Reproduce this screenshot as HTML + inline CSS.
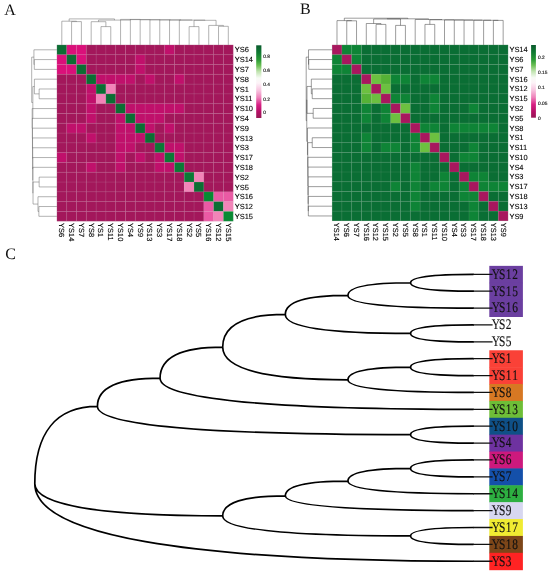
<!DOCTYPE html>
<html><head><meta charset="utf-8"><title>Figure</title>
<style>html,body{margin:0;padding:0;background:#fff}svg{display:block}</style></head>
<body><svg width="550" height="573" viewBox="0 0 550 573" text-rendering="geometricPrecision">
<rect width="550" height="573" fill="#fff"/>
<rect x="56.90" y="44.90" width="9.85" height="9.85" fill="#0b6e33"/>
<rect x="66.69" y="44.90" width="9.85" height="9.85" fill="#da107a"/>
<rect x="76.49" y="44.90" width="9.85" height="9.85" fill="#da107a"/>
<rect x="86.28" y="44.90" width="9.85" height="9.85" fill="#a3175b"/>
<rect x="96.08" y="44.90" width="9.85" height="9.85" fill="#a3175b"/>
<rect x="105.88" y="44.90" width="9.85" height="9.85" fill="#a3175b"/>
<rect x="115.67" y="44.90" width="9.85" height="9.85" fill="#a3175b"/>
<rect x="125.47" y="44.90" width="9.85" height="9.85" fill="#a3175b"/>
<rect x="135.26" y="44.90" width="9.85" height="9.85" fill="#a3175b"/>
<rect x="145.06" y="44.90" width="9.85" height="9.85" fill="#a3175b"/>
<rect x="154.85" y="44.90" width="9.85" height="9.85" fill="#a3175b"/>
<rect x="164.65" y="44.90" width="9.85" height="9.85" fill="#c0106b"/>
<rect x="174.44" y="44.90" width="9.85" height="9.85" fill="#a3175b"/>
<rect x="184.23" y="44.90" width="9.85" height="9.85" fill="#a3175b"/>
<rect x="194.03" y="44.90" width="9.85" height="9.85" fill="#a3175b"/>
<rect x="203.83" y="44.90" width="9.85" height="9.85" fill="#a3175b"/>
<rect x="213.62" y="44.90" width="9.85" height="9.85" fill="#a3175b"/>
<rect x="223.41" y="44.90" width="9.85" height="9.85" fill="#a3175b"/>
<rect x="56.90" y="54.70" width="9.85" height="9.85" fill="#da107a"/>
<rect x="66.69" y="54.70" width="9.85" height="9.85" fill="#0b6e33"/>
<rect x="76.49" y="54.70" width="9.85" height="9.85" fill="#da107a"/>
<rect x="86.28" y="54.70" width="9.85" height="9.85" fill="#a3175b"/>
<rect x="96.08" y="54.70" width="9.85" height="9.85" fill="#a3175b"/>
<rect x="105.88" y="54.70" width="9.85" height="9.85" fill="#a3175b"/>
<rect x="115.67" y="54.70" width="9.85" height="9.85" fill="#a3175b"/>
<rect x="125.47" y="54.70" width="9.85" height="9.85" fill="#a3175b"/>
<rect x="135.26" y="54.70" width="9.85" height="9.85" fill="#c0106b"/>
<rect x="145.06" y="54.70" width="9.85" height="9.85" fill="#a3175b"/>
<rect x="154.85" y="54.70" width="9.85" height="9.85" fill="#a3175b"/>
<rect x="164.65" y="54.70" width="9.85" height="9.85" fill="#a3175b"/>
<rect x="174.44" y="54.70" width="9.85" height="9.85" fill="#a3175b"/>
<rect x="184.23" y="54.70" width="9.85" height="9.85" fill="#a3175b"/>
<rect x="194.03" y="54.70" width="9.85" height="9.85" fill="#a3175b"/>
<rect x="203.83" y="54.70" width="9.85" height="9.85" fill="#a3175b"/>
<rect x="213.62" y="54.70" width="9.85" height="9.85" fill="#a3175b"/>
<rect x="223.41" y="54.70" width="9.85" height="9.85" fill="#a3175b"/>
<rect x="56.90" y="64.49" width="9.85" height="9.85" fill="#da107a"/>
<rect x="66.69" y="64.49" width="9.85" height="9.85" fill="#da107a"/>
<rect x="76.49" y="64.49" width="9.85" height="9.85" fill="#0b6e33"/>
<rect x="86.28" y="64.49" width="9.85" height="9.85" fill="#a3175b"/>
<rect x="96.08" y="64.49" width="9.85" height="9.85" fill="#a3175b"/>
<rect x="105.88" y="64.49" width="9.85" height="9.85" fill="#a3175b"/>
<rect x="115.67" y="64.49" width="9.85" height="9.85" fill="#a3175b"/>
<rect x="125.47" y="64.49" width="9.85" height="9.85" fill="#a3175b"/>
<rect x="135.26" y="64.49" width="9.85" height="9.85" fill="#c0106b"/>
<rect x="145.06" y="64.49" width="9.85" height="9.85" fill="#a3175b"/>
<rect x="154.85" y="64.49" width="9.85" height="9.85" fill="#a3175b"/>
<rect x="164.65" y="64.49" width="9.85" height="9.85" fill="#a3175b"/>
<rect x="174.44" y="64.49" width="9.85" height="9.85" fill="#a3175b"/>
<rect x="184.23" y="64.49" width="9.85" height="9.85" fill="#a3175b"/>
<rect x="194.03" y="64.49" width="9.85" height="9.85" fill="#a3175b"/>
<rect x="203.83" y="64.49" width="9.85" height="9.85" fill="#a3175b"/>
<rect x="213.62" y="64.49" width="9.85" height="9.85" fill="#a3175b"/>
<rect x="223.41" y="64.49" width="9.85" height="9.85" fill="#a3175b"/>
<rect x="56.90" y="74.28" width="9.85" height="9.85" fill="#a3175b"/>
<rect x="66.69" y="74.28" width="9.85" height="9.85" fill="#a3175b"/>
<rect x="76.49" y="74.28" width="9.85" height="9.85" fill="#a3175b"/>
<rect x="86.28" y="74.28" width="9.85" height="9.85" fill="#0b6e33"/>
<rect x="96.08" y="74.28" width="9.85" height="9.85" fill="#c0106b"/>
<rect x="105.88" y="74.28" width="9.85" height="9.85" fill="#c0106b"/>
<rect x="115.67" y="74.28" width="9.85" height="9.85" fill="#c0106b"/>
<rect x="125.47" y="74.28" width="9.85" height="9.85" fill="#c0106b"/>
<rect x="135.26" y="74.28" width="9.85" height="9.85" fill="#a3175b"/>
<rect x="145.06" y="74.28" width="9.85" height="9.85" fill="#c0106b"/>
<rect x="154.85" y="74.28" width="9.85" height="9.85" fill="#a3175b"/>
<rect x="164.65" y="74.28" width="9.85" height="9.85" fill="#a3175b"/>
<rect x="174.44" y="74.28" width="9.85" height="9.85" fill="#c0106b"/>
<rect x="184.23" y="74.28" width="9.85" height="9.85" fill="#a3175b"/>
<rect x="194.03" y="74.28" width="9.85" height="9.85" fill="#a3175b"/>
<rect x="203.83" y="74.28" width="9.85" height="9.85" fill="#a3175b"/>
<rect x="213.62" y="74.28" width="9.85" height="9.85" fill="#a3175b"/>
<rect x="223.41" y="74.28" width="9.85" height="9.85" fill="#a3175b"/>
<rect x="56.90" y="84.08" width="9.85" height="9.85" fill="#a3175b"/>
<rect x="66.69" y="84.08" width="9.85" height="9.85" fill="#a3175b"/>
<rect x="76.49" y="84.08" width="9.85" height="9.85" fill="#a3175b"/>
<rect x="86.28" y="84.08" width="9.85" height="9.85" fill="#c0106b"/>
<rect x="96.08" y="84.08" width="9.85" height="9.85" fill="#0b6e33"/>
<rect x="105.88" y="84.08" width="9.85" height="9.85" fill="#f284b8"/>
<rect x="115.67" y="84.08" width="9.85" height="9.85" fill="#a3175b"/>
<rect x="125.47" y="84.08" width="9.85" height="9.85" fill="#a3175b"/>
<rect x="135.26" y="84.08" width="9.85" height="9.85" fill="#a3175b"/>
<rect x="145.06" y="84.08" width="9.85" height="9.85" fill="#a3175b"/>
<rect x="154.85" y="84.08" width="9.85" height="9.85" fill="#a3175b"/>
<rect x="164.65" y="84.08" width="9.85" height="9.85" fill="#a3175b"/>
<rect x="174.44" y="84.08" width="9.85" height="9.85" fill="#a3175b"/>
<rect x="184.23" y="84.08" width="9.85" height="9.85" fill="#a3175b"/>
<rect x="194.03" y="84.08" width="9.85" height="9.85" fill="#a3175b"/>
<rect x="203.83" y="84.08" width="9.85" height="9.85" fill="#a3175b"/>
<rect x="213.62" y="84.08" width="9.85" height="9.85" fill="#a3175b"/>
<rect x="223.41" y="84.08" width="9.85" height="9.85" fill="#a3175b"/>
<rect x="56.90" y="93.88" width="9.85" height="9.85" fill="#a3175b"/>
<rect x="66.69" y="93.88" width="9.85" height="9.85" fill="#a3175b"/>
<rect x="76.49" y="93.88" width="9.85" height="9.85" fill="#a3175b"/>
<rect x="86.28" y="93.88" width="9.85" height="9.85" fill="#c0106b"/>
<rect x="96.08" y="93.88" width="9.85" height="9.85" fill="#f284b8"/>
<rect x="105.88" y="93.88" width="9.85" height="9.85" fill="#0b6e33"/>
<rect x="115.67" y="93.88" width="9.85" height="9.85" fill="#a3175b"/>
<rect x="125.47" y="93.88" width="9.85" height="9.85" fill="#a3175b"/>
<rect x="135.26" y="93.88" width="9.85" height="9.85" fill="#a3175b"/>
<rect x="145.06" y="93.88" width="9.85" height="9.85" fill="#a3175b"/>
<rect x="154.85" y="93.88" width="9.85" height="9.85" fill="#a3175b"/>
<rect x="164.65" y="93.88" width="9.85" height="9.85" fill="#a3175b"/>
<rect x="174.44" y="93.88" width="9.85" height="9.85" fill="#a3175b"/>
<rect x="184.23" y="93.88" width="9.85" height="9.85" fill="#a3175b"/>
<rect x="194.03" y="93.88" width="9.85" height="9.85" fill="#a3175b"/>
<rect x="203.83" y="93.88" width="9.85" height="9.85" fill="#a3175b"/>
<rect x="213.62" y="93.88" width="9.85" height="9.85" fill="#a3175b"/>
<rect x="223.41" y="93.88" width="9.85" height="9.85" fill="#a3175b"/>
<rect x="56.90" y="103.67" width="9.85" height="9.85" fill="#a3175b"/>
<rect x="66.69" y="103.67" width="9.85" height="9.85" fill="#a3175b"/>
<rect x="76.49" y="103.67" width="9.85" height="9.85" fill="#a3175b"/>
<rect x="86.28" y="103.67" width="9.85" height="9.85" fill="#c0106b"/>
<rect x="96.08" y="103.67" width="9.85" height="9.85" fill="#a3175b"/>
<rect x="105.88" y="103.67" width="9.85" height="9.85" fill="#a3175b"/>
<rect x="115.67" y="103.67" width="9.85" height="9.85" fill="#0b6e33"/>
<rect x="125.47" y="103.67" width="9.85" height="9.85" fill="#c0106b"/>
<rect x="135.26" y="103.67" width="9.85" height="9.85" fill="#c0106b"/>
<rect x="145.06" y="103.67" width="9.85" height="9.85" fill="#c0106b"/>
<rect x="154.85" y="103.67" width="9.85" height="9.85" fill="#c0106b"/>
<rect x="164.65" y="103.67" width="9.85" height="9.85" fill="#c0106b"/>
<rect x="174.44" y="103.67" width="9.85" height="9.85" fill="#c0106b"/>
<rect x="184.23" y="103.67" width="9.85" height="9.85" fill="#a3175b"/>
<rect x="194.03" y="103.67" width="9.85" height="9.85" fill="#a3175b"/>
<rect x="203.83" y="103.67" width="9.85" height="9.85" fill="#a3175b"/>
<rect x="213.62" y="103.67" width="9.85" height="9.85" fill="#a3175b"/>
<rect x="223.41" y="103.67" width="9.85" height="9.85" fill="#a3175b"/>
<rect x="56.90" y="113.47" width="9.85" height="9.85" fill="#a3175b"/>
<rect x="66.69" y="113.47" width="9.85" height="9.85" fill="#a3175b"/>
<rect x="76.49" y="113.47" width="9.85" height="9.85" fill="#a3175b"/>
<rect x="86.28" y="113.47" width="9.85" height="9.85" fill="#c0106b"/>
<rect x="96.08" y="113.47" width="9.85" height="9.85" fill="#a3175b"/>
<rect x="105.88" y="113.47" width="9.85" height="9.85" fill="#a3175b"/>
<rect x="115.67" y="113.47" width="9.85" height="9.85" fill="#c0106b"/>
<rect x="125.47" y="113.47" width="9.85" height="9.85" fill="#0b6e33"/>
<rect x="135.26" y="113.47" width="9.85" height="9.85" fill="#c0106b"/>
<rect x="145.06" y="113.47" width="9.85" height="9.85" fill="#c0106b"/>
<rect x="154.85" y="113.47" width="9.85" height="9.85" fill="#c0106b"/>
<rect x="164.65" y="113.47" width="9.85" height="9.85" fill="#a3175b"/>
<rect x="174.44" y="113.47" width="9.85" height="9.85" fill="#a3175b"/>
<rect x="184.23" y="113.47" width="9.85" height="9.85" fill="#a3175b"/>
<rect x="194.03" y="113.47" width="9.85" height="9.85" fill="#a3175b"/>
<rect x="203.83" y="113.47" width="9.85" height="9.85" fill="#a3175b"/>
<rect x="213.62" y="113.47" width="9.85" height="9.85" fill="#a3175b"/>
<rect x="223.41" y="113.47" width="9.85" height="9.85" fill="#a3175b"/>
<rect x="56.90" y="123.26" width="9.85" height="9.85" fill="#a3175b"/>
<rect x="66.69" y="123.26" width="9.85" height="9.85" fill="#c0106b"/>
<rect x="76.49" y="123.26" width="9.85" height="9.85" fill="#c0106b"/>
<rect x="86.28" y="123.26" width="9.85" height="9.85" fill="#a3175b"/>
<rect x="96.08" y="123.26" width="9.85" height="9.85" fill="#a3175b"/>
<rect x="105.88" y="123.26" width="9.85" height="9.85" fill="#a3175b"/>
<rect x="115.67" y="123.26" width="9.85" height="9.85" fill="#c0106b"/>
<rect x="125.47" y="123.26" width="9.85" height="9.85" fill="#c0106b"/>
<rect x="135.26" y="123.26" width="9.85" height="9.85" fill="#0b6e33"/>
<rect x="145.06" y="123.26" width="9.85" height="9.85" fill="#c0106b"/>
<rect x="154.85" y="123.26" width="9.85" height="9.85" fill="#a3175b"/>
<rect x="164.65" y="123.26" width="9.85" height="9.85" fill="#c0106b"/>
<rect x="174.44" y="123.26" width="9.85" height="9.85" fill="#a3175b"/>
<rect x="184.23" y="123.26" width="9.85" height="9.85" fill="#a3175b"/>
<rect x="194.03" y="123.26" width="9.85" height="9.85" fill="#a3175b"/>
<rect x="203.83" y="123.26" width="9.85" height="9.85" fill="#a3175b"/>
<rect x="213.62" y="123.26" width="9.85" height="9.85" fill="#a3175b"/>
<rect x="223.41" y="123.26" width="9.85" height="9.85" fill="#a3175b"/>
<rect x="56.90" y="133.06" width="9.85" height="9.85" fill="#a3175b"/>
<rect x="66.69" y="133.06" width="9.85" height="9.85" fill="#a3175b"/>
<rect x="76.49" y="133.06" width="9.85" height="9.85" fill="#a3175b"/>
<rect x="86.28" y="133.06" width="9.85" height="9.85" fill="#c0106b"/>
<rect x="96.08" y="133.06" width="9.85" height="9.85" fill="#a3175b"/>
<rect x="105.88" y="133.06" width="9.85" height="9.85" fill="#a3175b"/>
<rect x="115.67" y="133.06" width="9.85" height="9.85" fill="#c0106b"/>
<rect x="125.47" y="133.06" width="9.85" height="9.85" fill="#c0106b"/>
<rect x="135.26" y="133.06" width="9.85" height="9.85" fill="#c0106b"/>
<rect x="145.06" y="133.06" width="9.85" height="9.85" fill="#0b6e33"/>
<rect x="154.85" y="133.06" width="9.85" height="9.85" fill="#a3175b"/>
<rect x="164.65" y="133.06" width="9.85" height="9.85" fill="#a3175b"/>
<rect x="174.44" y="133.06" width="9.85" height="9.85" fill="#a3175b"/>
<rect x="184.23" y="133.06" width="9.85" height="9.85" fill="#a3175b"/>
<rect x="194.03" y="133.06" width="9.85" height="9.85" fill="#a3175b"/>
<rect x="203.83" y="133.06" width="9.85" height="9.85" fill="#a3175b"/>
<rect x="213.62" y="133.06" width="9.85" height="9.85" fill="#a3175b"/>
<rect x="223.41" y="133.06" width="9.85" height="9.85" fill="#a3175b"/>
<rect x="56.90" y="142.85" width="9.85" height="9.85" fill="#a3175b"/>
<rect x="66.69" y="142.85" width="9.85" height="9.85" fill="#a3175b"/>
<rect x="76.49" y="142.85" width="9.85" height="9.85" fill="#a3175b"/>
<rect x="86.28" y="142.85" width="9.85" height="9.85" fill="#a3175b"/>
<rect x="96.08" y="142.85" width="9.85" height="9.85" fill="#a3175b"/>
<rect x="105.88" y="142.85" width="9.85" height="9.85" fill="#a3175b"/>
<rect x="115.67" y="142.85" width="9.85" height="9.85" fill="#c0106b"/>
<rect x="125.47" y="142.85" width="9.85" height="9.85" fill="#c0106b"/>
<rect x="135.26" y="142.85" width="9.85" height="9.85" fill="#a3175b"/>
<rect x="145.06" y="142.85" width="9.85" height="9.85" fill="#a3175b"/>
<rect x="154.85" y="142.85" width="9.85" height="9.85" fill="#0b7a36"/>
<rect x="164.65" y="142.85" width="9.85" height="9.85" fill="#c0106b"/>
<rect x="174.44" y="142.85" width="9.85" height="9.85" fill="#c0106b"/>
<rect x="184.23" y="142.85" width="9.85" height="9.85" fill="#a3175b"/>
<rect x="194.03" y="142.85" width="9.85" height="9.85" fill="#a3175b"/>
<rect x="203.83" y="142.85" width="9.85" height="9.85" fill="#a3175b"/>
<rect x="213.62" y="142.85" width="9.85" height="9.85" fill="#a3175b"/>
<rect x="223.41" y="142.85" width="9.85" height="9.85" fill="#a3175b"/>
<rect x="56.90" y="152.65" width="9.85" height="9.85" fill="#c0106b"/>
<rect x="66.69" y="152.65" width="9.85" height="9.85" fill="#a3175b"/>
<rect x="76.49" y="152.65" width="9.85" height="9.85" fill="#a3175b"/>
<rect x="86.28" y="152.65" width="9.85" height="9.85" fill="#a3175b"/>
<rect x="96.08" y="152.65" width="9.85" height="9.85" fill="#a3175b"/>
<rect x="105.88" y="152.65" width="9.85" height="9.85" fill="#a3175b"/>
<rect x="115.67" y="152.65" width="9.85" height="9.85" fill="#c0106b"/>
<rect x="125.47" y="152.65" width="9.85" height="9.85" fill="#a3175b"/>
<rect x="135.26" y="152.65" width="9.85" height="9.85" fill="#c0106b"/>
<rect x="145.06" y="152.65" width="9.85" height="9.85" fill="#a3175b"/>
<rect x="154.85" y="152.65" width="9.85" height="9.85" fill="#c0106b"/>
<rect x="164.65" y="152.65" width="9.85" height="9.85" fill="#0b7a36"/>
<rect x="174.44" y="152.65" width="9.85" height="9.85" fill="#c0106b"/>
<rect x="184.23" y="152.65" width="9.85" height="9.85" fill="#a3175b"/>
<rect x="194.03" y="152.65" width="9.85" height="9.85" fill="#a3175b"/>
<rect x="203.83" y="152.65" width="9.85" height="9.85" fill="#a3175b"/>
<rect x="213.62" y="152.65" width="9.85" height="9.85" fill="#a3175b"/>
<rect x="223.41" y="152.65" width="9.85" height="9.85" fill="#a3175b"/>
<rect x="56.90" y="162.44" width="9.85" height="9.85" fill="#a3175b"/>
<rect x="66.69" y="162.44" width="9.85" height="9.85" fill="#a3175b"/>
<rect x="76.49" y="162.44" width="9.85" height="9.85" fill="#a3175b"/>
<rect x="86.28" y="162.44" width="9.85" height="9.85" fill="#c0106b"/>
<rect x="96.08" y="162.44" width="9.85" height="9.85" fill="#a3175b"/>
<rect x="105.88" y="162.44" width="9.85" height="9.85" fill="#a3175b"/>
<rect x="115.67" y="162.44" width="9.85" height="9.85" fill="#c0106b"/>
<rect x="125.47" y="162.44" width="9.85" height="9.85" fill="#a3175b"/>
<rect x="135.26" y="162.44" width="9.85" height="9.85" fill="#a3175b"/>
<rect x="145.06" y="162.44" width="9.85" height="9.85" fill="#a3175b"/>
<rect x="154.85" y="162.44" width="9.85" height="9.85" fill="#c0106b"/>
<rect x="164.65" y="162.44" width="9.85" height="9.85" fill="#c0106b"/>
<rect x="174.44" y="162.44" width="9.85" height="9.85" fill="#0b7a36"/>
<rect x="184.23" y="162.44" width="9.85" height="9.85" fill="#a3175b"/>
<rect x="194.03" y="162.44" width="9.85" height="9.85" fill="#a3175b"/>
<rect x="203.83" y="162.44" width="9.85" height="9.85" fill="#a3175b"/>
<rect x="213.62" y="162.44" width="9.85" height="9.85" fill="#a3175b"/>
<rect x="223.41" y="162.44" width="9.85" height="9.85" fill="#a3175b"/>
<rect x="56.90" y="172.23" width="9.85" height="9.85" fill="#a3175b"/>
<rect x="66.69" y="172.23" width="9.85" height="9.85" fill="#a3175b"/>
<rect x="76.49" y="172.23" width="9.85" height="9.85" fill="#a3175b"/>
<rect x="86.28" y="172.23" width="9.85" height="9.85" fill="#a3175b"/>
<rect x="96.08" y="172.23" width="9.85" height="9.85" fill="#a3175b"/>
<rect x="105.88" y="172.23" width="9.85" height="9.85" fill="#a3175b"/>
<rect x="115.67" y="172.23" width="9.85" height="9.85" fill="#a3175b"/>
<rect x="125.47" y="172.23" width="9.85" height="9.85" fill="#a3175b"/>
<rect x="135.26" y="172.23" width="9.85" height="9.85" fill="#a3175b"/>
<rect x="145.06" y="172.23" width="9.85" height="9.85" fill="#a3175b"/>
<rect x="154.85" y="172.23" width="9.85" height="9.85" fill="#a3175b"/>
<rect x="164.65" y="172.23" width="9.85" height="9.85" fill="#a3175b"/>
<rect x="174.44" y="172.23" width="9.85" height="9.85" fill="#a3175b"/>
<rect x="184.23" y="172.23" width="9.85" height="9.85" fill="#0b7a36"/>
<rect x="194.03" y="172.23" width="9.85" height="9.85" fill="#f284b8"/>
<rect x="203.83" y="172.23" width="9.85" height="9.85" fill="#a3175b"/>
<rect x="213.62" y="172.23" width="9.85" height="9.85" fill="#a3175b"/>
<rect x="223.41" y="172.23" width="9.85" height="9.85" fill="#a3175b"/>
<rect x="56.90" y="182.03" width="9.85" height="9.85" fill="#a3175b"/>
<rect x="66.69" y="182.03" width="9.85" height="9.85" fill="#a3175b"/>
<rect x="76.49" y="182.03" width="9.85" height="9.85" fill="#a3175b"/>
<rect x="86.28" y="182.03" width="9.85" height="9.85" fill="#a3175b"/>
<rect x="96.08" y="182.03" width="9.85" height="9.85" fill="#a3175b"/>
<rect x="105.88" y="182.03" width="9.85" height="9.85" fill="#a3175b"/>
<rect x="115.67" y="182.03" width="9.85" height="9.85" fill="#a3175b"/>
<rect x="125.47" y="182.03" width="9.85" height="9.85" fill="#a3175b"/>
<rect x="135.26" y="182.03" width="9.85" height="9.85" fill="#a3175b"/>
<rect x="145.06" y="182.03" width="9.85" height="9.85" fill="#a3175b"/>
<rect x="154.85" y="182.03" width="9.85" height="9.85" fill="#a3175b"/>
<rect x="164.65" y="182.03" width="9.85" height="9.85" fill="#a3175b"/>
<rect x="174.44" y="182.03" width="9.85" height="9.85" fill="#a3175b"/>
<rect x="184.23" y="182.03" width="9.85" height="9.85" fill="#f284b8"/>
<rect x="194.03" y="182.03" width="9.85" height="9.85" fill="#0b6e33"/>
<rect x="203.83" y="182.03" width="9.85" height="9.85" fill="#a3175b"/>
<rect x="213.62" y="182.03" width="9.85" height="9.85" fill="#a3175b"/>
<rect x="223.41" y="182.03" width="9.85" height="9.85" fill="#a3175b"/>
<rect x="56.90" y="191.83" width="9.85" height="9.85" fill="#a3175b"/>
<rect x="66.69" y="191.83" width="9.85" height="9.85" fill="#a3175b"/>
<rect x="76.49" y="191.83" width="9.85" height="9.85" fill="#a3175b"/>
<rect x="86.28" y="191.83" width="9.85" height="9.85" fill="#a3175b"/>
<rect x="96.08" y="191.83" width="9.85" height="9.85" fill="#a3175b"/>
<rect x="105.88" y="191.83" width="9.85" height="9.85" fill="#a3175b"/>
<rect x="115.67" y="191.83" width="9.85" height="9.85" fill="#a3175b"/>
<rect x="125.47" y="191.83" width="9.85" height="9.85" fill="#a3175b"/>
<rect x="135.26" y="191.83" width="9.85" height="9.85" fill="#a3175b"/>
<rect x="145.06" y="191.83" width="9.85" height="9.85" fill="#a3175b"/>
<rect x="154.85" y="191.83" width="9.85" height="9.85" fill="#a3175b"/>
<rect x="164.65" y="191.83" width="9.85" height="9.85" fill="#a3175b"/>
<rect x="174.44" y="191.83" width="9.85" height="9.85" fill="#a3175b"/>
<rect x="184.23" y="191.83" width="9.85" height="9.85" fill="#a3175b"/>
<rect x="194.03" y="191.83" width="9.85" height="9.85" fill="#a3175b"/>
<rect x="203.83" y="191.83" width="9.85" height="9.85" fill="#078a32"/>
<rect x="213.62" y="191.83" width="9.85" height="9.85" fill="#ea5aa4"/>
<rect x="223.41" y="191.83" width="9.85" height="9.85" fill="#ea5aa4"/>
<rect x="56.90" y="201.62" width="9.85" height="9.85" fill="#a3175b"/>
<rect x="66.69" y="201.62" width="9.85" height="9.85" fill="#a3175b"/>
<rect x="76.49" y="201.62" width="9.85" height="9.85" fill="#a3175b"/>
<rect x="86.28" y="201.62" width="9.85" height="9.85" fill="#a3175b"/>
<rect x="96.08" y="201.62" width="9.85" height="9.85" fill="#a3175b"/>
<rect x="105.88" y="201.62" width="9.85" height="9.85" fill="#a3175b"/>
<rect x="115.67" y="201.62" width="9.85" height="9.85" fill="#a3175b"/>
<rect x="125.47" y="201.62" width="9.85" height="9.85" fill="#a3175b"/>
<rect x="135.26" y="201.62" width="9.85" height="9.85" fill="#a3175b"/>
<rect x="145.06" y="201.62" width="9.85" height="9.85" fill="#a3175b"/>
<rect x="154.85" y="201.62" width="9.85" height="9.85" fill="#a3175b"/>
<rect x="164.65" y="201.62" width="9.85" height="9.85" fill="#a3175b"/>
<rect x="174.44" y="201.62" width="9.85" height="9.85" fill="#a3175b"/>
<rect x="184.23" y="201.62" width="9.85" height="9.85" fill="#a3175b"/>
<rect x="194.03" y="201.62" width="9.85" height="9.85" fill="#a3175b"/>
<rect x="203.83" y="201.62" width="9.85" height="9.85" fill="#ea5aa4"/>
<rect x="213.62" y="201.62" width="9.85" height="9.85" fill="#0b6e33"/>
<rect x="223.41" y="201.62" width="9.85" height="9.85" fill="#f284b8"/>
<rect x="56.90" y="211.41" width="9.85" height="9.85" fill="#a3175b"/>
<rect x="66.69" y="211.41" width="9.85" height="9.85" fill="#a3175b"/>
<rect x="76.49" y="211.41" width="9.85" height="9.85" fill="#a3175b"/>
<rect x="86.28" y="211.41" width="9.85" height="9.85" fill="#a3175b"/>
<rect x="96.08" y="211.41" width="9.85" height="9.85" fill="#a3175b"/>
<rect x="105.88" y="211.41" width="9.85" height="9.85" fill="#a3175b"/>
<rect x="115.67" y="211.41" width="9.85" height="9.85" fill="#a3175b"/>
<rect x="125.47" y="211.41" width="9.85" height="9.85" fill="#a3175b"/>
<rect x="135.26" y="211.41" width="9.85" height="9.85" fill="#a3175b"/>
<rect x="145.06" y="211.41" width="9.85" height="9.85" fill="#a3175b"/>
<rect x="154.85" y="211.41" width="9.85" height="9.85" fill="#a3175b"/>
<rect x="164.65" y="211.41" width="9.85" height="9.85" fill="#a3175b"/>
<rect x="174.44" y="211.41" width="9.85" height="9.85" fill="#a3175b"/>
<rect x="184.23" y="211.41" width="9.85" height="9.85" fill="#a3175b"/>
<rect x="194.03" y="211.41" width="9.85" height="9.85" fill="#a3175b"/>
<rect x="203.83" y="211.41" width="9.85" height="9.85" fill="#ea5aa4"/>
<rect x="213.62" y="211.41" width="9.85" height="9.85" fill="#f284b8"/>
<rect x="223.41" y="211.41" width="9.85" height="9.85" fill="#078a32"/>
<path d="M56.90 44.90V221.21M56.90 44.90H233.21M66.69 44.90V221.21M56.90 54.70H233.21M76.49 44.90V221.21M56.90 64.49H233.21M86.28 44.90V221.21M56.90 74.28H233.21M96.08 44.90V221.21M56.90 84.08H233.21M105.88 44.90V221.21M56.90 93.88H233.21M115.67 44.90V221.21M56.90 103.67H233.21M125.47 44.90V221.21M56.90 113.47H233.21M135.26 44.90V221.21M56.90 123.26H233.21M145.06 44.90V221.21M56.90 133.06H233.21M154.85 44.90V221.21M56.90 142.85H233.21M164.65 44.90V221.21M56.90 152.65H233.21M174.44 44.90V221.21M56.90 162.44H233.21M184.23 44.90V221.21M56.90 172.23H233.21M194.03 44.90V221.21M56.90 182.03H233.21M203.83 44.90V221.21M56.90 191.83H233.21M213.62 44.90V221.21M56.90 201.62H233.21M223.41 44.90V221.21M56.90 211.41H233.21M233.21 44.90V221.21M56.90 221.21H233.21" stroke="#bfa0b0" stroke-width="0.32" fill="none" opacity="0.5"/>
<path d="M71.59 44.90L71.59 21.60M81.39 44.90L81.39 21.60M71.59 21.60L81.39 21.60M61.80 44.90L61.80 21.20M76.49 21.60L76.49 21.20M61.80 21.20L76.49 21.20M100.98 44.90L100.98 26.60M110.77 44.90L110.77 26.60M100.98 26.60L110.77 26.60M91.18 44.90L91.18 21.70M105.88 26.60L105.88 21.70M91.18 21.70L105.88 21.70M189.13 44.90L189.13 26.60M198.93 44.90L198.93 26.60M189.13 26.60L198.93 26.60M218.52 44.90L218.52 26.30M228.31 44.90L228.31 26.30M218.52 26.30L228.31 26.30M208.72 44.90L208.72 25.40M223.42 26.30L223.42 25.40M208.72 25.40L223.42 25.40M194.03 26.60L194.03 20.30M216.07 25.40L216.07 20.30M194.03 20.30L216.07 20.30M179.34 44.90L179.34 20.10M205.05 20.30L205.05 20.10M179.34 20.10L205.05 20.10M169.54 44.90L169.54 20.00M192.19 20.10L192.19 20.00M169.54 20.00L192.19 20.00M159.75 44.90L159.75 19.90M180.87 20.00L180.87 19.90M159.75 19.90L180.87 19.90M149.95 44.90L149.95 19.80M170.31 19.90L170.31 19.80M149.95 19.80L170.31 19.80M140.16 44.90L140.16 19.70M160.13 19.80L160.13 19.70M140.16 19.70L160.13 19.70M130.36 44.90L130.36 19.60M150.14 19.70L150.14 19.60M130.36 19.60L150.14 19.60M120.57 44.90L120.57 19.40M140.25 19.60L140.25 19.40M120.57 19.40L140.25 19.40M98.53 21.70L98.53 20.10M130.41 19.40L130.41 20.10M98.53 20.10L130.41 20.10M69.14 21.20L69.14 18.90M114.47 20.10L114.47 18.90M69.14 18.90L114.47 18.90" fill="none" stroke="#666" stroke-width="0.5"/>
<path d="M56.90 59.59L34.30 59.59M56.90 69.39L34.30 69.39M34.30 59.59L34.30 69.39M56.90 49.80L33.91 49.80M34.30 64.49L33.91 64.49M33.91 49.80L33.91 64.49M56.90 88.98L39.15 88.98M56.90 98.77L39.15 98.77M39.15 88.98L39.15 98.77M56.90 79.18L34.40 79.18M39.15 93.88L34.40 93.88M34.40 79.18L34.40 93.88M56.90 177.13L39.15 177.13M56.90 186.93L39.15 186.93M39.15 177.13L39.15 186.93M56.90 206.52L38.86 206.52M56.90 216.31L38.86 216.31M38.86 206.52L38.86 216.31M56.90 196.72L37.98 196.72M38.86 211.42L37.98 211.42M37.98 196.72L37.98 211.42M39.15 182.03L33.04 182.03M37.98 204.07L33.04 204.07M33.04 182.03L33.04 204.07M56.90 167.34L32.84 167.34M33.04 193.05L32.84 193.05M32.84 167.34L32.84 193.05M56.90 157.54L32.75 157.54M32.84 180.19L32.75 180.19M32.75 157.54L32.75 180.19M56.90 147.75L32.65 147.75M32.75 168.87L32.65 168.87M32.65 147.75L32.65 168.87M56.90 137.95L32.55 137.95M32.65 158.31L32.55 158.31M32.55 137.95L32.55 158.31M56.90 128.16L32.46 128.16M32.55 148.13L32.46 148.13M32.46 128.16L32.46 148.13M56.90 118.36L32.36 118.36M32.46 138.14L32.36 138.14M32.36 118.36L32.36 138.14M56.90 108.57L32.16 108.57M32.36 128.25L32.16 128.25M32.16 108.57L32.16 128.25M34.40 86.53L32.84 86.53M32.16 118.41L32.84 118.41M32.84 86.53L32.84 118.41M33.91 57.14L31.68 57.14M32.84 102.47L31.68 102.47M31.68 57.14L31.68 102.47" fill="none" stroke="#666" stroke-width="0.5"/>
<text x="234.81" y="52.40" font-family='"Liberation Sans", Arial, sans-serif' font-size="7.45" fill="#000" stroke="#000" stroke-width="0.1">YS6</text>
<text transform="translate(59.20 223.11) rotate(90)" font-family='"Liberation Sans", Arial, sans-serif' font-size="7.45" fill="#000" stroke="#000" stroke-width="0.1">YS6</text>
<text x="234.81" y="62.19" font-family='"Liberation Sans", Arial, sans-serif' font-size="7.45" fill="#000" stroke="#000" stroke-width="0.1">YS14</text>
<text transform="translate(68.99 223.11) rotate(90)" font-family='"Liberation Sans", Arial, sans-serif' font-size="7.45" fill="#000" stroke="#000" stroke-width="0.1">YS14</text>
<text x="234.81" y="71.99" font-family='"Liberation Sans", Arial, sans-serif' font-size="7.45" fill="#000" stroke="#000" stroke-width="0.1">YS7</text>
<text transform="translate(78.79 223.11) rotate(90)" font-family='"Liberation Sans", Arial, sans-serif' font-size="7.45" fill="#000" stroke="#000" stroke-width="0.1">YS7</text>
<text x="234.81" y="81.78" font-family='"Liberation Sans", Arial, sans-serif' font-size="7.45" fill="#000" stroke="#000" stroke-width="0.1">YS8</text>
<text transform="translate(88.58 223.11) rotate(90)" font-family='"Liberation Sans", Arial, sans-serif' font-size="7.45" fill="#000" stroke="#000" stroke-width="0.1">YS8</text>
<text x="234.81" y="91.58" font-family='"Liberation Sans", Arial, sans-serif' font-size="7.45" fill="#000" stroke="#000" stroke-width="0.1">YS1</text>
<text transform="translate(98.38 223.11) rotate(90)" font-family='"Liberation Sans", Arial, sans-serif' font-size="7.45" fill="#000" stroke="#000" stroke-width="0.1">YS1</text>
<text x="234.81" y="101.37" font-family='"Liberation Sans", Arial, sans-serif' font-size="7.45" fill="#000" stroke="#000" stroke-width="0.1">YS11</text>
<text transform="translate(108.17 223.11) rotate(90)" font-family='"Liberation Sans", Arial, sans-serif' font-size="7.45" fill="#000" stroke="#000" stroke-width="0.1">YS11</text>
<text x="234.81" y="111.17" font-family='"Liberation Sans", Arial, sans-serif' font-size="7.45" fill="#000" stroke="#000" stroke-width="0.1">YS10</text>
<text transform="translate(117.97 223.11) rotate(90)" font-family='"Liberation Sans", Arial, sans-serif' font-size="7.45" fill="#000" stroke="#000" stroke-width="0.1">YS10</text>
<text x="234.81" y="120.96" font-family='"Liberation Sans", Arial, sans-serif' font-size="7.45" fill="#000" stroke="#000" stroke-width="0.1">YS4</text>
<text transform="translate(127.76 223.11) rotate(90)" font-family='"Liberation Sans", Arial, sans-serif' font-size="7.45" fill="#000" stroke="#000" stroke-width="0.1">YS4</text>
<text x="234.81" y="130.76" font-family='"Liberation Sans", Arial, sans-serif' font-size="7.45" fill="#000" stroke="#000" stroke-width="0.1">YS9</text>
<text transform="translate(137.56 223.11) rotate(90)" font-family='"Liberation Sans", Arial, sans-serif' font-size="7.45" fill="#000" stroke="#000" stroke-width="0.1">YS9</text>
<text x="234.81" y="140.55" font-family='"Liberation Sans", Arial, sans-serif' font-size="7.45" fill="#000" stroke="#000" stroke-width="0.1">YS13</text>
<text transform="translate(147.35 223.11) rotate(90)" font-family='"Liberation Sans", Arial, sans-serif' font-size="7.45" fill="#000" stroke="#000" stroke-width="0.1">YS13</text>
<text x="234.81" y="150.35" font-family='"Liberation Sans", Arial, sans-serif' font-size="7.45" fill="#000" stroke="#000" stroke-width="0.1">YS3</text>
<text transform="translate(157.15 223.11) rotate(90)" font-family='"Liberation Sans", Arial, sans-serif' font-size="7.45" fill="#000" stroke="#000" stroke-width="0.1">YS3</text>
<text x="234.81" y="160.14" font-family='"Liberation Sans", Arial, sans-serif' font-size="7.45" fill="#000" stroke="#000" stroke-width="0.1">YS17</text>
<text transform="translate(166.94 223.11) rotate(90)" font-family='"Liberation Sans", Arial, sans-serif' font-size="7.45" fill="#000" stroke="#000" stroke-width="0.1">YS17</text>
<text x="234.81" y="169.94" font-family='"Liberation Sans", Arial, sans-serif' font-size="7.45" fill="#000" stroke="#000" stroke-width="0.1">YS18</text>
<text transform="translate(176.74 223.11) rotate(90)" font-family='"Liberation Sans", Arial, sans-serif' font-size="7.45" fill="#000" stroke="#000" stroke-width="0.1">YS18</text>
<text x="234.81" y="179.73" font-family='"Liberation Sans", Arial, sans-serif' font-size="7.45" fill="#000" stroke="#000" stroke-width="0.1">YS2</text>
<text transform="translate(186.53 223.11) rotate(90)" font-family='"Liberation Sans", Arial, sans-serif' font-size="7.45" fill="#000" stroke="#000" stroke-width="0.1">YS2</text>
<text x="234.81" y="189.53" font-family='"Liberation Sans", Arial, sans-serif' font-size="7.45" fill="#000" stroke="#000" stroke-width="0.1">YS5</text>
<text transform="translate(196.33 223.11) rotate(90)" font-family='"Liberation Sans", Arial, sans-serif' font-size="7.45" fill="#000" stroke="#000" stroke-width="0.1">YS5</text>
<text x="234.81" y="199.32" font-family='"Liberation Sans", Arial, sans-serif' font-size="7.45" fill="#000" stroke="#000" stroke-width="0.1">YS16</text>
<text transform="translate(206.12 223.11) rotate(90)" font-family='"Liberation Sans", Arial, sans-serif' font-size="7.45" fill="#000" stroke="#000" stroke-width="0.1">YS16</text>
<text x="234.81" y="209.12" font-family='"Liberation Sans", Arial, sans-serif' font-size="7.45" fill="#000" stroke="#000" stroke-width="0.1">YS12</text>
<text transform="translate(215.92 223.11) rotate(90)" font-family='"Liberation Sans", Arial, sans-serif' font-size="7.45" fill="#000" stroke="#000" stroke-width="0.1">YS12</text>
<text x="234.81" y="218.91" font-family='"Liberation Sans", Arial, sans-serif' font-size="7.45" fill="#000" stroke="#000" stroke-width="0.1">YS15</text>
<text transform="translate(225.71 223.11) rotate(90)" font-family='"Liberation Sans", Arial, sans-serif' font-size="7.45" fill="#000" stroke="#000" stroke-width="0.1">YS15</text>
<rect x="332.10" y="44.90" width="9.83" height="9.83" fill="#a8175e"/>
<rect x="341.88" y="44.90" width="9.83" height="9.83" fill="#0e8436"/>
<rect x="351.65" y="44.90" width="9.83" height="9.83" fill="#0e8436"/>
<rect x="361.43" y="44.90" width="9.83" height="9.83" fill="#0a6e34"/>
<rect x="371.20" y="44.90" width="9.83" height="9.83" fill="#0a6e34"/>
<rect x="380.98" y="44.90" width="9.83" height="9.83" fill="#0a6e34"/>
<rect x="390.75" y="44.90" width="9.83" height="9.83" fill="#0a6e34"/>
<rect x="400.53" y="44.90" width="9.83" height="9.83" fill="#0a6e34"/>
<rect x="410.30" y="44.90" width="9.83" height="9.83" fill="#0a6e34"/>
<rect x="420.08" y="44.90" width="9.83" height="9.83" fill="#0a6e34"/>
<rect x="429.85" y="44.90" width="9.83" height="9.83" fill="#0a6e34"/>
<rect x="439.62" y="44.90" width="9.83" height="9.83" fill="#0a6e34"/>
<rect x="449.40" y="44.90" width="9.83" height="9.83" fill="#0a6e34"/>
<rect x="459.18" y="44.90" width="9.83" height="9.83" fill="#0a6e34"/>
<rect x="468.95" y="44.90" width="9.83" height="9.83" fill="#0a6e34"/>
<rect x="478.73" y="44.90" width="9.83" height="9.83" fill="#0a6e34"/>
<rect x="488.50" y="44.90" width="9.83" height="9.83" fill="#0a6e34"/>
<rect x="498.28" y="44.90" width="9.83" height="9.83" fill="#0a6e34"/>
<rect x="332.10" y="54.67" width="9.83" height="9.83" fill="#0e8436"/>
<rect x="341.88" y="54.67" width="9.83" height="9.83" fill="#a8175e"/>
<rect x="351.65" y="54.67" width="9.83" height="9.83" fill="#0e8436"/>
<rect x="361.43" y="54.67" width="9.83" height="9.83" fill="#0a6e34"/>
<rect x="371.20" y="54.67" width="9.83" height="9.83" fill="#0a6e34"/>
<rect x="380.98" y="54.67" width="9.83" height="9.83" fill="#0a6e34"/>
<rect x="390.75" y="54.67" width="9.83" height="9.83" fill="#0a6e34"/>
<rect x="400.53" y="54.67" width="9.83" height="9.83" fill="#0a6e34"/>
<rect x="410.30" y="54.67" width="9.83" height="9.83" fill="#0a6e34"/>
<rect x="420.08" y="54.67" width="9.83" height="9.83" fill="#0a6e34"/>
<rect x="429.85" y="54.67" width="9.83" height="9.83" fill="#0a6e34"/>
<rect x="439.62" y="54.67" width="9.83" height="9.83" fill="#0a6e34"/>
<rect x="449.40" y="54.67" width="9.83" height="9.83" fill="#0a6e34"/>
<rect x="459.18" y="54.67" width="9.83" height="9.83" fill="#0a6e34"/>
<rect x="468.95" y="54.67" width="9.83" height="9.83" fill="#0a6e34"/>
<rect x="478.73" y="54.67" width="9.83" height="9.83" fill="#0a6e34"/>
<rect x="488.50" y="54.67" width="9.83" height="9.83" fill="#0a6e34"/>
<rect x="498.28" y="54.67" width="9.83" height="9.83" fill="#0a6e34"/>
<rect x="332.10" y="64.45" width="9.83" height="9.83" fill="#0e8436"/>
<rect x="341.88" y="64.45" width="9.83" height="9.83" fill="#0e8436"/>
<rect x="351.65" y="64.45" width="9.83" height="9.83" fill="#a8175e"/>
<rect x="361.43" y="64.45" width="9.83" height="9.83" fill="#0a6e34"/>
<rect x="371.20" y="64.45" width="9.83" height="9.83" fill="#0a6e34"/>
<rect x="380.98" y="64.45" width="9.83" height="9.83" fill="#0a6e34"/>
<rect x="390.75" y="64.45" width="9.83" height="9.83" fill="#0a6e34"/>
<rect x="400.53" y="64.45" width="9.83" height="9.83" fill="#0a6e34"/>
<rect x="410.30" y="64.45" width="9.83" height="9.83" fill="#0a6e34"/>
<rect x="420.08" y="64.45" width="9.83" height="9.83" fill="#0a6e34"/>
<rect x="429.85" y="64.45" width="9.83" height="9.83" fill="#0a6e34"/>
<rect x="439.62" y="64.45" width="9.83" height="9.83" fill="#0a6e34"/>
<rect x="449.40" y="64.45" width="9.83" height="9.83" fill="#0a6e34"/>
<rect x="459.18" y="64.45" width="9.83" height="9.83" fill="#0a6e34"/>
<rect x="468.95" y="64.45" width="9.83" height="9.83" fill="#0a6e34"/>
<rect x="478.73" y="64.45" width="9.83" height="9.83" fill="#0a6e34"/>
<rect x="488.50" y="64.45" width="9.83" height="9.83" fill="#0a6e34"/>
<rect x="498.28" y="64.45" width="9.83" height="9.83" fill="#0a6e34"/>
<rect x="332.10" y="74.22" width="9.83" height="9.83" fill="#0a6e34"/>
<rect x="341.88" y="74.22" width="9.83" height="9.83" fill="#0a6e34"/>
<rect x="351.65" y="74.22" width="9.83" height="9.83" fill="#0a6e34"/>
<rect x="361.43" y="74.22" width="9.83" height="9.83" fill="#a8175e"/>
<rect x="371.20" y="74.22" width="9.83" height="9.83" fill="#6cc040"/>
<rect x="380.98" y="74.22" width="9.83" height="9.83" fill="#55b236"/>
<rect x="390.75" y="74.22" width="9.83" height="9.83" fill="#0e8436"/>
<rect x="400.53" y="74.22" width="9.83" height="9.83" fill="#0e8436"/>
<rect x="410.30" y="74.22" width="9.83" height="9.83" fill="#0a6e34"/>
<rect x="420.08" y="74.22" width="9.83" height="9.83" fill="#0e8436"/>
<rect x="429.85" y="74.22" width="9.83" height="9.83" fill="#0e8436"/>
<rect x="439.62" y="74.22" width="9.83" height="9.83" fill="#0a6e34"/>
<rect x="449.40" y="74.22" width="9.83" height="9.83" fill="#0a6e34"/>
<rect x="459.18" y="74.22" width="9.83" height="9.83" fill="#0a6e34"/>
<rect x="468.95" y="74.22" width="9.83" height="9.83" fill="#0a6e34"/>
<rect x="478.73" y="74.22" width="9.83" height="9.83" fill="#0a6e34"/>
<rect x="488.50" y="74.22" width="9.83" height="9.83" fill="#0a6e34"/>
<rect x="498.28" y="74.22" width="9.83" height="9.83" fill="#0a6e34"/>
<rect x="332.10" y="84.00" width="9.83" height="9.83" fill="#0a6e34"/>
<rect x="341.88" y="84.00" width="9.83" height="9.83" fill="#0a6e34"/>
<rect x="351.65" y="84.00" width="9.83" height="9.83" fill="#0a6e34"/>
<rect x="361.43" y="84.00" width="9.83" height="9.83" fill="#6cc040"/>
<rect x="371.20" y="84.00" width="9.83" height="9.83" fill="#a8175e"/>
<rect x="380.98" y="84.00" width="9.83" height="9.83" fill="#6cc040"/>
<rect x="390.75" y="84.00" width="9.83" height="9.83" fill="#0a6e34"/>
<rect x="400.53" y="84.00" width="9.83" height="9.83" fill="#0a6e34"/>
<rect x="410.30" y="84.00" width="9.83" height="9.83" fill="#0a6e34"/>
<rect x="420.08" y="84.00" width="9.83" height="9.83" fill="#0a6e34"/>
<rect x="429.85" y="84.00" width="9.83" height="9.83" fill="#0a6e34"/>
<rect x="439.62" y="84.00" width="9.83" height="9.83" fill="#0a6e34"/>
<rect x="449.40" y="84.00" width="9.83" height="9.83" fill="#0a6e34"/>
<rect x="459.18" y="84.00" width="9.83" height="9.83" fill="#0a6e34"/>
<rect x="468.95" y="84.00" width="9.83" height="9.83" fill="#0a6e34"/>
<rect x="478.73" y="84.00" width="9.83" height="9.83" fill="#0a6e34"/>
<rect x="488.50" y="84.00" width="9.83" height="9.83" fill="#0a6e34"/>
<rect x="498.28" y="84.00" width="9.83" height="9.83" fill="#0a6e34"/>
<rect x="332.10" y="93.78" width="9.83" height="9.83" fill="#0a6e34"/>
<rect x="341.88" y="93.78" width="9.83" height="9.83" fill="#0a6e34"/>
<rect x="351.65" y="93.78" width="9.83" height="9.83" fill="#0a6e34"/>
<rect x="361.43" y="93.78" width="9.83" height="9.83" fill="#55b236"/>
<rect x="371.20" y="93.78" width="9.83" height="9.83" fill="#6cc040"/>
<rect x="380.98" y="93.78" width="9.83" height="9.83" fill="#a8175e"/>
<rect x="390.75" y="93.78" width="9.83" height="9.83" fill="#0e8436"/>
<rect x="400.53" y="93.78" width="9.83" height="9.83" fill="#0e8436"/>
<rect x="410.30" y="93.78" width="9.83" height="9.83" fill="#0a6e34"/>
<rect x="420.08" y="93.78" width="9.83" height="9.83" fill="#0a6e34"/>
<rect x="429.85" y="93.78" width="9.83" height="9.83" fill="#0e8436"/>
<rect x="439.62" y="93.78" width="9.83" height="9.83" fill="#0a6e34"/>
<rect x="449.40" y="93.78" width="9.83" height="9.83" fill="#0a6e34"/>
<rect x="459.18" y="93.78" width="9.83" height="9.83" fill="#0a6e34"/>
<rect x="468.95" y="93.78" width="9.83" height="9.83" fill="#0a6e34"/>
<rect x="478.73" y="93.78" width="9.83" height="9.83" fill="#0a6e34"/>
<rect x="488.50" y="93.78" width="9.83" height="9.83" fill="#0a6e34"/>
<rect x="498.28" y="93.78" width="9.83" height="9.83" fill="#0a6e34"/>
<rect x="332.10" y="103.55" width="9.83" height="9.83" fill="#0a6e34"/>
<rect x="341.88" y="103.55" width="9.83" height="9.83" fill="#0a6e34"/>
<rect x="351.65" y="103.55" width="9.83" height="9.83" fill="#0a6e34"/>
<rect x="361.43" y="103.55" width="9.83" height="9.83" fill="#0e8436"/>
<rect x="371.20" y="103.55" width="9.83" height="9.83" fill="#0a6e34"/>
<rect x="380.98" y="103.55" width="9.83" height="9.83" fill="#0e8436"/>
<rect x="390.75" y="103.55" width="9.83" height="9.83" fill="#a8175e"/>
<rect x="400.53" y="103.55" width="9.83" height="9.83" fill="#6cc040"/>
<rect x="410.30" y="103.55" width="9.83" height="9.83" fill="#0a6e34"/>
<rect x="420.08" y="103.55" width="9.83" height="9.83" fill="#0a6e34"/>
<rect x="429.85" y="103.55" width="9.83" height="9.83" fill="#0e8436"/>
<rect x="439.62" y="103.55" width="9.83" height="9.83" fill="#0a6e34"/>
<rect x="449.40" y="103.55" width="9.83" height="9.83" fill="#0a6e34"/>
<rect x="459.18" y="103.55" width="9.83" height="9.83" fill="#0a6e34"/>
<rect x="468.95" y="103.55" width="9.83" height="9.83" fill="#0e8436"/>
<rect x="478.73" y="103.55" width="9.83" height="9.83" fill="#0a6e34"/>
<rect x="488.50" y="103.55" width="9.83" height="9.83" fill="#0a6e34"/>
<rect x="498.28" y="103.55" width="9.83" height="9.83" fill="#0a6e34"/>
<rect x="332.10" y="113.32" width="9.83" height="9.83" fill="#0a6e34"/>
<rect x="341.88" y="113.32" width="9.83" height="9.83" fill="#0a6e34"/>
<rect x="351.65" y="113.32" width="9.83" height="9.83" fill="#0a6e34"/>
<rect x="361.43" y="113.32" width="9.83" height="9.83" fill="#0e8436"/>
<rect x="371.20" y="113.32" width="9.83" height="9.83" fill="#0a6e34"/>
<rect x="380.98" y="113.32" width="9.83" height="9.83" fill="#0e8436"/>
<rect x="390.75" y="113.32" width="9.83" height="9.83" fill="#6cc040"/>
<rect x="400.53" y="113.32" width="9.83" height="9.83" fill="#a8175e"/>
<rect x="410.30" y="113.32" width="9.83" height="9.83" fill="#0a6e34"/>
<rect x="420.08" y="113.32" width="9.83" height="9.83" fill="#0a6e34"/>
<rect x="429.85" y="113.32" width="9.83" height="9.83" fill="#0a6e34"/>
<rect x="439.62" y="113.32" width="9.83" height="9.83" fill="#0a6e34"/>
<rect x="449.40" y="113.32" width="9.83" height="9.83" fill="#0a6e34"/>
<rect x="459.18" y="113.32" width="9.83" height="9.83" fill="#0a6e34"/>
<rect x="468.95" y="113.32" width="9.83" height="9.83" fill="#0a6e34"/>
<rect x="478.73" y="113.32" width="9.83" height="9.83" fill="#0a6e34"/>
<rect x="488.50" y="113.32" width="9.83" height="9.83" fill="#0a6e34"/>
<rect x="498.28" y="113.32" width="9.83" height="9.83" fill="#0a6e34"/>
<rect x="332.10" y="123.10" width="9.83" height="9.83" fill="#0a6e34"/>
<rect x="341.88" y="123.10" width="9.83" height="9.83" fill="#0a6e34"/>
<rect x="351.65" y="123.10" width="9.83" height="9.83" fill="#0a6e34"/>
<rect x="361.43" y="123.10" width="9.83" height="9.83" fill="#0a6e34"/>
<rect x="371.20" y="123.10" width="9.83" height="9.83" fill="#0a6e34"/>
<rect x="380.98" y="123.10" width="9.83" height="9.83" fill="#0a6e34"/>
<rect x="390.75" y="123.10" width="9.83" height="9.83" fill="#0a6e34"/>
<rect x="400.53" y="123.10" width="9.83" height="9.83" fill="#0a6e34"/>
<rect x="410.30" y="123.10" width="9.83" height="9.83" fill="#a8175e"/>
<rect x="420.08" y="123.10" width="9.83" height="9.83" fill="#0e8436"/>
<rect x="429.85" y="123.10" width="9.83" height="9.83" fill="#0e8436"/>
<rect x="439.62" y="123.10" width="9.83" height="9.83" fill="#0a6e34"/>
<rect x="449.40" y="123.10" width="9.83" height="9.83" fill="#0e8436"/>
<rect x="459.18" y="123.10" width="9.83" height="9.83" fill="#0e8436"/>
<rect x="468.95" y="123.10" width="9.83" height="9.83" fill="#0e8436"/>
<rect x="478.73" y="123.10" width="9.83" height="9.83" fill="#0e8436"/>
<rect x="488.50" y="123.10" width="9.83" height="9.83" fill="#0e8436"/>
<rect x="498.28" y="123.10" width="9.83" height="9.83" fill="#0a6e34"/>
<rect x="332.10" y="132.88" width="9.83" height="9.83" fill="#0a6e34"/>
<rect x="341.88" y="132.88" width="9.83" height="9.83" fill="#0a6e34"/>
<rect x="351.65" y="132.88" width="9.83" height="9.83" fill="#0a6e34"/>
<rect x="361.43" y="132.88" width="9.83" height="9.83" fill="#0e8436"/>
<rect x="371.20" y="132.88" width="9.83" height="9.83" fill="#0a6e34"/>
<rect x="380.98" y="132.88" width="9.83" height="9.83" fill="#0a6e34"/>
<rect x="390.75" y="132.88" width="9.83" height="9.83" fill="#0a6e34"/>
<rect x="400.53" y="132.88" width="9.83" height="9.83" fill="#0a6e34"/>
<rect x="410.30" y="132.88" width="9.83" height="9.83" fill="#0e8436"/>
<rect x="420.08" y="132.88" width="9.83" height="9.83" fill="#a8175e"/>
<rect x="429.85" y="132.88" width="9.83" height="9.83" fill="#6cc040"/>
<rect x="439.62" y="132.88" width="9.83" height="9.83" fill="#0a6e34"/>
<rect x="449.40" y="132.88" width="9.83" height="9.83" fill="#0a6e34"/>
<rect x="459.18" y="132.88" width="9.83" height="9.83" fill="#0a6e34"/>
<rect x="468.95" y="132.88" width="9.83" height="9.83" fill="#0a6e34"/>
<rect x="478.73" y="132.88" width="9.83" height="9.83" fill="#0a6e34"/>
<rect x="488.50" y="132.88" width="9.83" height="9.83" fill="#0a6e34"/>
<rect x="498.28" y="132.88" width="9.83" height="9.83" fill="#0a6e34"/>
<rect x="332.10" y="142.65" width="9.83" height="9.83" fill="#0a6e34"/>
<rect x="341.88" y="142.65" width="9.83" height="9.83" fill="#0a6e34"/>
<rect x="351.65" y="142.65" width="9.83" height="9.83" fill="#0a6e34"/>
<rect x="361.43" y="142.65" width="9.83" height="9.83" fill="#0e8436"/>
<rect x="371.20" y="142.65" width="9.83" height="9.83" fill="#0a6e34"/>
<rect x="380.98" y="142.65" width="9.83" height="9.83" fill="#0e8436"/>
<rect x="390.75" y="142.65" width="9.83" height="9.83" fill="#0e8436"/>
<rect x="400.53" y="142.65" width="9.83" height="9.83" fill="#0a6e34"/>
<rect x="410.30" y="142.65" width="9.83" height="9.83" fill="#0e8436"/>
<rect x="420.08" y="142.65" width="9.83" height="9.83" fill="#6cc040"/>
<rect x="429.85" y="142.65" width="9.83" height="9.83" fill="#a8175e"/>
<rect x="439.62" y="142.65" width="9.83" height="9.83" fill="#0a6e34"/>
<rect x="449.40" y="142.65" width="9.83" height="9.83" fill="#0a6e34"/>
<rect x="459.18" y="142.65" width="9.83" height="9.83" fill="#0a6e34"/>
<rect x="468.95" y="142.65" width="9.83" height="9.83" fill="#0e8436"/>
<rect x="478.73" y="142.65" width="9.83" height="9.83" fill="#0a6e34"/>
<rect x="488.50" y="142.65" width="9.83" height="9.83" fill="#0a6e34"/>
<rect x="498.28" y="142.65" width="9.83" height="9.83" fill="#0a6e34"/>
<rect x="332.10" y="152.43" width="9.83" height="9.83" fill="#0a6e34"/>
<rect x="341.88" y="152.43" width="9.83" height="9.83" fill="#0a6e34"/>
<rect x="351.65" y="152.43" width="9.83" height="9.83" fill="#0a6e34"/>
<rect x="361.43" y="152.43" width="9.83" height="9.83" fill="#0a6e34"/>
<rect x="371.20" y="152.43" width="9.83" height="9.83" fill="#0a6e34"/>
<rect x="380.98" y="152.43" width="9.83" height="9.83" fill="#0a6e34"/>
<rect x="390.75" y="152.43" width="9.83" height="9.83" fill="#0a6e34"/>
<rect x="400.53" y="152.43" width="9.83" height="9.83" fill="#0a6e34"/>
<rect x="410.30" y="152.43" width="9.83" height="9.83" fill="#0a6e34"/>
<rect x="420.08" y="152.43" width="9.83" height="9.83" fill="#0a6e34"/>
<rect x="429.85" y="152.43" width="9.83" height="9.83" fill="#0a6e34"/>
<rect x="439.62" y="152.43" width="9.83" height="9.83" fill="#a8175e"/>
<rect x="449.40" y="152.43" width="9.83" height="9.83" fill="#0a6e34"/>
<rect x="459.18" y="152.43" width="9.83" height="9.83" fill="#0e8436"/>
<rect x="468.95" y="152.43" width="9.83" height="9.83" fill="#0e8436"/>
<rect x="478.73" y="152.43" width="9.83" height="9.83" fill="#0a6e34"/>
<rect x="488.50" y="152.43" width="9.83" height="9.83" fill="#0a6e34"/>
<rect x="498.28" y="152.43" width="9.83" height="9.83" fill="#0a6e34"/>
<rect x="332.10" y="162.20" width="9.83" height="9.83" fill="#0a6e34"/>
<rect x="341.88" y="162.20" width="9.83" height="9.83" fill="#0a6e34"/>
<rect x="351.65" y="162.20" width="9.83" height="9.83" fill="#0a6e34"/>
<rect x="361.43" y="162.20" width="9.83" height="9.83" fill="#0a6e34"/>
<rect x="371.20" y="162.20" width="9.83" height="9.83" fill="#0a6e34"/>
<rect x="380.98" y="162.20" width="9.83" height="9.83" fill="#0a6e34"/>
<rect x="390.75" y="162.20" width="9.83" height="9.83" fill="#0a6e34"/>
<rect x="400.53" y="162.20" width="9.83" height="9.83" fill="#0a6e34"/>
<rect x="410.30" y="162.20" width="9.83" height="9.83" fill="#0e8436"/>
<rect x="420.08" y="162.20" width="9.83" height="9.83" fill="#0a6e34"/>
<rect x="429.85" y="162.20" width="9.83" height="9.83" fill="#0a6e34"/>
<rect x="439.62" y="162.20" width="9.83" height="9.83" fill="#0a6e34"/>
<rect x="449.40" y="162.20" width="9.83" height="9.83" fill="#a8175e"/>
<rect x="459.18" y="162.20" width="9.83" height="9.83" fill="#0a6e34"/>
<rect x="468.95" y="162.20" width="9.83" height="9.83" fill="#0a6e34"/>
<rect x="478.73" y="162.20" width="9.83" height="9.83" fill="#0a6e34"/>
<rect x="488.50" y="162.20" width="9.83" height="9.83" fill="#0a6e34"/>
<rect x="498.28" y="162.20" width="9.83" height="9.83" fill="#0a6e34"/>
<rect x="332.10" y="171.97" width="9.83" height="9.83" fill="#0a6e34"/>
<rect x="341.88" y="171.97" width="9.83" height="9.83" fill="#0a6e34"/>
<rect x="351.65" y="171.97" width="9.83" height="9.83" fill="#0a6e34"/>
<rect x="361.43" y="171.97" width="9.83" height="9.83" fill="#0a6e34"/>
<rect x="371.20" y="171.97" width="9.83" height="9.83" fill="#0a6e34"/>
<rect x="380.98" y="171.97" width="9.83" height="9.83" fill="#0a6e34"/>
<rect x="390.75" y="171.97" width="9.83" height="9.83" fill="#0a6e34"/>
<rect x="400.53" y="171.97" width="9.83" height="9.83" fill="#0a6e34"/>
<rect x="410.30" y="171.97" width="9.83" height="9.83" fill="#0e8436"/>
<rect x="420.08" y="171.97" width="9.83" height="9.83" fill="#0a6e34"/>
<rect x="429.85" y="171.97" width="9.83" height="9.83" fill="#0a6e34"/>
<rect x="439.62" y="171.97" width="9.83" height="9.83" fill="#0e8436"/>
<rect x="449.40" y="171.97" width="9.83" height="9.83" fill="#0a6e34"/>
<rect x="459.18" y="171.97" width="9.83" height="9.83" fill="#a8175e"/>
<rect x="468.95" y="171.97" width="9.83" height="9.83" fill="#0e8436"/>
<rect x="478.73" y="171.97" width="9.83" height="9.83" fill="#0e8436"/>
<rect x="488.50" y="171.97" width="9.83" height="9.83" fill="#0a6e34"/>
<rect x="498.28" y="171.97" width="9.83" height="9.83" fill="#0a6e34"/>
<rect x="332.10" y="181.75" width="9.83" height="9.83" fill="#0a6e34"/>
<rect x="341.88" y="181.75" width="9.83" height="9.83" fill="#0a6e34"/>
<rect x="351.65" y="181.75" width="9.83" height="9.83" fill="#0a6e34"/>
<rect x="361.43" y="181.75" width="9.83" height="9.83" fill="#0a6e34"/>
<rect x="371.20" y="181.75" width="9.83" height="9.83" fill="#0a6e34"/>
<rect x="380.98" y="181.75" width="9.83" height="9.83" fill="#0a6e34"/>
<rect x="390.75" y="181.75" width="9.83" height="9.83" fill="#0e8436"/>
<rect x="400.53" y="181.75" width="9.83" height="9.83" fill="#0a6e34"/>
<rect x="410.30" y="181.75" width="9.83" height="9.83" fill="#0e8436"/>
<rect x="420.08" y="181.75" width="9.83" height="9.83" fill="#0a6e34"/>
<rect x="429.85" y="181.75" width="9.83" height="9.83" fill="#0e8436"/>
<rect x="439.62" y="181.75" width="9.83" height="9.83" fill="#0e8436"/>
<rect x="449.40" y="181.75" width="9.83" height="9.83" fill="#0a6e34"/>
<rect x="459.18" y="181.75" width="9.83" height="9.83" fill="#0e8436"/>
<rect x="468.95" y="181.75" width="9.83" height="9.83" fill="#a8175e"/>
<rect x="478.73" y="181.75" width="9.83" height="9.83" fill="#0e8436"/>
<rect x="488.50" y="181.75" width="9.83" height="9.83" fill="#0e8436"/>
<rect x="498.28" y="181.75" width="9.83" height="9.83" fill="#0e8436"/>
<rect x="332.10" y="191.53" width="9.83" height="9.83" fill="#0a6e34"/>
<rect x="341.88" y="191.53" width="9.83" height="9.83" fill="#0a6e34"/>
<rect x="351.65" y="191.53" width="9.83" height="9.83" fill="#0a6e34"/>
<rect x="361.43" y="191.53" width="9.83" height="9.83" fill="#0a6e34"/>
<rect x="371.20" y="191.53" width="9.83" height="9.83" fill="#0a6e34"/>
<rect x="380.98" y="191.53" width="9.83" height="9.83" fill="#0a6e34"/>
<rect x="390.75" y="191.53" width="9.83" height="9.83" fill="#0a6e34"/>
<rect x="400.53" y="191.53" width="9.83" height="9.83" fill="#0a6e34"/>
<rect x="410.30" y="191.53" width="9.83" height="9.83" fill="#0e8436"/>
<rect x="420.08" y="191.53" width="9.83" height="9.83" fill="#0a6e34"/>
<rect x="429.85" y="191.53" width="9.83" height="9.83" fill="#0a6e34"/>
<rect x="439.62" y="191.53" width="9.83" height="9.83" fill="#0a6e34"/>
<rect x="449.40" y="191.53" width="9.83" height="9.83" fill="#0a6e34"/>
<rect x="459.18" y="191.53" width="9.83" height="9.83" fill="#0e8436"/>
<rect x="468.95" y="191.53" width="9.83" height="9.83" fill="#0e8436"/>
<rect x="478.73" y="191.53" width="9.83" height="9.83" fill="#a8175e"/>
<rect x="488.50" y="191.53" width="9.83" height="9.83" fill="#0a6e34"/>
<rect x="498.28" y="191.53" width="9.83" height="9.83" fill="#0a6e34"/>
<rect x="332.10" y="201.30" width="9.83" height="9.83" fill="#0a6e34"/>
<rect x="341.88" y="201.30" width="9.83" height="9.83" fill="#0a6e34"/>
<rect x="351.65" y="201.30" width="9.83" height="9.83" fill="#0a6e34"/>
<rect x="361.43" y="201.30" width="9.83" height="9.83" fill="#0a6e34"/>
<rect x="371.20" y="201.30" width="9.83" height="9.83" fill="#0a6e34"/>
<rect x="380.98" y="201.30" width="9.83" height="9.83" fill="#0a6e34"/>
<rect x="390.75" y="201.30" width="9.83" height="9.83" fill="#0a6e34"/>
<rect x="400.53" y="201.30" width="9.83" height="9.83" fill="#0a6e34"/>
<rect x="410.30" y="201.30" width="9.83" height="9.83" fill="#0e8436"/>
<rect x="420.08" y="201.30" width="9.83" height="9.83" fill="#0a6e34"/>
<rect x="429.85" y="201.30" width="9.83" height="9.83" fill="#0a6e34"/>
<rect x="439.62" y="201.30" width="9.83" height="9.83" fill="#0a6e34"/>
<rect x="449.40" y="201.30" width="9.83" height="9.83" fill="#0a6e34"/>
<rect x="459.18" y="201.30" width="9.83" height="9.83" fill="#0a6e34"/>
<rect x="468.95" y="201.30" width="9.83" height="9.83" fill="#0e8436"/>
<rect x="478.73" y="201.30" width="9.83" height="9.83" fill="#0a6e34"/>
<rect x="488.50" y="201.30" width="9.83" height="9.83" fill="#a8175e"/>
<rect x="498.28" y="201.30" width="9.83" height="9.83" fill="#0a6e34"/>
<rect x="332.10" y="211.08" width="9.83" height="9.83" fill="#0a6e34"/>
<rect x="341.88" y="211.08" width="9.83" height="9.83" fill="#0a6e34"/>
<rect x="351.65" y="211.08" width="9.83" height="9.83" fill="#0a6e34"/>
<rect x="361.43" y="211.08" width="9.83" height="9.83" fill="#0a6e34"/>
<rect x="371.20" y="211.08" width="9.83" height="9.83" fill="#0a6e34"/>
<rect x="380.98" y="211.08" width="9.83" height="9.83" fill="#0a6e34"/>
<rect x="390.75" y="211.08" width="9.83" height="9.83" fill="#0a6e34"/>
<rect x="400.53" y="211.08" width="9.83" height="9.83" fill="#0a6e34"/>
<rect x="410.30" y="211.08" width="9.83" height="9.83" fill="#0a6e34"/>
<rect x="420.08" y="211.08" width="9.83" height="9.83" fill="#0a6e34"/>
<rect x="429.85" y="211.08" width="9.83" height="9.83" fill="#0a6e34"/>
<rect x="439.62" y="211.08" width="9.83" height="9.83" fill="#0a6e34"/>
<rect x="449.40" y="211.08" width="9.83" height="9.83" fill="#0a6e34"/>
<rect x="459.18" y="211.08" width="9.83" height="9.83" fill="#0a6e34"/>
<rect x="468.95" y="211.08" width="9.83" height="9.83" fill="#0e8436"/>
<rect x="478.73" y="211.08" width="9.83" height="9.83" fill="#0a6e34"/>
<rect x="488.50" y="211.08" width="9.83" height="9.83" fill="#0a6e34"/>
<rect x="498.28" y="211.08" width="9.83" height="9.83" fill="#a8175e"/>
<path d="M332.10 44.90V220.85M332.10 44.90H508.05M341.88 44.90V220.85M332.10 54.67H508.05M351.65 44.90V220.85M332.10 64.45H508.05M361.43 44.90V220.85M332.10 74.22H508.05M371.20 44.90V220.85M332.10 84.00H508.05M380.98 44.90V220.85M332.10 93.78H508.05M390.75 44.90V220.85M332.10 103.55H508.05M400.53 44.90V220.85M332.10 113.32H508.05M410.30 44.90V220.85M332.10 123.10H508.05M420.08 44.90V220.85M332.10 132.88H508.05M429.85 44.90V220.85M332.10 142.65H508.05M439.62 44.90V220.85M332.10 152.43H508.05M449.40 44.90V220.85M332.10 162.20H508.05M459.18 44.90V220.85M332.10 171.97H508.05M468.95 44.90V220.85M332.10 181.75H508.05M478.73 44.90V220.85M332.10 191.53H508.05M488.50 44.90V220.85M332.10 201.30H508.05M498.28 44.90V220.85M332.10 211.08H508.05M508.05 44.90V220.85M332.10 220.85H508.05" stroke="#9cb3a2" stroke-width="0.32" fill="none" opacity="0.5"/>
<path d="M346.76 44.90L346.76 20.80M356.54 44.90L356.54 20.80M346.76 20.80L356.54 20.80M336.99 44.90L336.99 20.60M351.65 20.80L351.65 20.60M336.99 20.60L351.65 20.60M376.09 44.90L376.09 24.40M385.86 44.90L385.86 24.40M376.09 24.40L385.86 24.40M366.31 44.90L366.31 23.50M380.98 24.40L380.98 23.50M366.31 23.50L380.98 23.50M395.64 44.90L395.64 25.40M405.41 44.90L405.41 25.40M395.64 25.40L405.41 25.40M373.64 23.50L373.64 19.00M400.53 25.40L400.53 19.00M373.64 19.00L400.53 19.00M424.96 44.90L424.96 24.40M434.74 44.90L434.74 24.40M424.96 24.40L434.74 24.40M493.39 44.90L493.39 20.40M503.16 44.90L503.16 20.40M493.39 20.40L503.16 20.40M483.61 44.90L483.61 20.30M498.28 20.40L498.28 20.30M483.61 20.30L498.28 20.30M473.84 44.90L473.84 20.20M490.94 20.30L490.94 20.20M473.84 20.20L490.94 20.20M464.06 44.90L464.06 20.10M482.39 20.20L482.39 20.10M464.06 20.10L482.39 20.10M454.29 44.90L454.29 20.00M473.23 20.10L473.23 20.00M454.29 20.00L473.23 20.00M444.51 44.90L444.51 19.90M463.76 20.00L463.76 19.90M444.51 19.90L463.76 19.90M429.85 24.40L429.85 19.80M454.13 19.90L454.13 19.80M429.85 19.80L454.13 19.80M415.19 44.90L415.19 19.50M441.99 19.80L441.99 19.50M415.19 19.50L441.99 19.50M387.08 19.00L387.08 18.80M428.59 19.50L428.59 18.80M387.08 18.80L428.59 18.80M344.32 20.60L344.32 18.20M407.84 18.80L407.84 18.20M344.32 18.20L407.84 18.20" fill="none" stroke="#3a3a3a" stroke-width="0.5"/>
<path d="M332.10 59.56L308.72 59.56M332.10 69.34L308.72 69.34M308.72 59.56L308.72 69.34M332.10 49.79L308.53 49.79M308.72 64.45L308.53 64.45M308.53 49.79L308.53 64.45M332.10 88.89L312.22 88.89M332.10 98.66L312.22 98.66M312.22 88.89L312.22 98.66M332.10 79.11L311.34 79.11M312.22 93.78L311.34 93.78M311.34 79.11L311.34 93.78M332.10 108.44L313.19 108.44M332.10 118.21L313.19 118.21M313.19 108.44L313.19 118.21M311.34 86.44L306.98 86.44M313.19 113.33L306.98 113.33M306.98 86.44L306.98 113.33M332.10 137.76L312.22 137.76M332.10 147.54L312.22 147.54M312.22 137.76L312.22 147.54M332.10 206.19L308.34 206.19M332.10 215.96L308.34 215.96M308.34 206.19L308.34 215.96M332.10 196.41L308.24 196.41M308.34 211.07L308.24 211.07M308.24 196.41L308.24 211.07M332.10 186.64L308.14 186.64M308.24 203.74L308.14 203.74M308.14 186.64L308.14 203.74M332.10 176.86L308.04 176.86M308.14 195.19L308.04 195.19M308.04 176.86L308.04 195.19M332.10 167.09L307.95 167.09M308.04 186.03L307.95 186.03M307.95 167.09L307.95 186.03M332.10 157.31L307.85 157.31M307.95 176.56L307.85 176.56M307.85 157.31L307.85 176.56M312.22 142.65L307.75 142.65M307.85 166.93L307.75 166.93M307.75 142.65L307.75 166.93M332.10 127.99L307.46 127.99M307.75 154.79L307.46 154.79M307.46 127.99L307.46 154.79M306.98 99.88L306.78 99.88M307.46 141.39L306.78 141.39M306.78 99.88L306.78 141.39M308.53 57.12L306.20 57.12M306.78 120.64L306.20 120.64M306.20 57.12L306.20 120.64" fill="none" stroke="#3a3a3a" stroke-width="0.5"/>
<text x="509.45" y="52.39" font-family='"Liberation Sans", Arial, sans-serif' font-size="7.45" fill="#000" stroke="#000" stroke-width="0.1">YS14</text>
<text transform="translate(334.39 222.75) rotate(90)" font-family='"Liberation Sans", Arial, sans-serif' font-size="7.45" fill="#000" stroke="#000" stroke-width="0.1">YS14</text>
<text x="509.45" y="62.16" font-family='"Liberation Sans", Arial, sans-serif' font-size="7.45" fill="#000" stroke="#000" stroke-width="0.1">YS6</text>
<text transform="translate(344.16 222.75) rotate(90)" font-family='"Liberation Sans", Arial, sans-serif' font-size="7.45" fill="#000" stroke="#000" stroke-width="0.1">YS6</text>
<text x="509.45" y="71.94" font-family='"Liberation Sans", Arial, sans-serif' font-size="7.45" fill="#000" stroke="#000" stroke-width="0.1">YS7</text>
<text transform="translate(353.94 222.75) rotate(90)" font-family='"Liberation Sans", Arial, sans-serif' font-size="7.45" fill="#000" stroke="#000" stroke-width="0.1">YS7</text>
<text x="509.45" y="81.71" font-family='"Liberation Sans", Arial, sans-serif' font-size="7.45" fill="#000" stroke="#000" stroke-width="0.1">YS16</text>
<text transform="translate(363.71 222.75) rotate(90)" font-family='"Liberation Sans", Arial, sans-serif' font-size="7.45" fill="#000" stroke="#000" stroke-width="0.1">YS16</text>
<text x="509.45" y="91.49" font-family='"Liberation Sans", Arial, sans-serif' font-size="7.45" fill="#000" stroke="#000" stroke-width="0.1">YS12</text>
<text transform="translate(373.49 222.75) rotate(90)" font-family='"Liberation Sans", Arial, sans-serif' font-size="7.45" fill="#000" stroke="#000" stroke-width="0.1">YS12</text>
<text x="509.45" y="101.26" font-family='"Liberation Sans", Arial, sans-serif' font-size="7.45" fill="#000" stroke="#000" stroke-width="0.1">YS15</text>
<text transform="translate(383.26 222.75) rotate(90)" font-family='"Liberation Sans", Arial, sans-serif' font-size="7.45" fill="#000" stroke="#000" stroke-width="0.1">YS15</text>
<text x="509.45" y="111.04" font-family='"Liberation Sans", Arial, sans-serif' font-size="7.45" fill="#000" stroke="#000" stroke-width="0.1">YS2</text>
<text transform="translate(393.04 222.75) rotate(90)" font-family='"Liberation Sans", Arial, sans-serif' font-size="7.45" fill="#000" stroke="#000" stroke-width="0.1">YS2</text>
<text x="509.45" y="120.81" font-family='"Liberation Sans", Arial, sans-serif' font-size="7.45" fill="#000" stroke="#000" stroke-width="0.1">YS5</text>
<text transform="translate(402.81 222.75) rotate(90)" font-family='"Liberation Sans", Arial, sans-serif' font-size="7.45" fill="#000" stroke="#000" stroke-width="0.1">YS5</text>
<text x="509.45" y="130.59" font-family='"Liberation Sans", Arial, sans-serif' font-size="7.45" fill="#000" stroke="#000" stroke-width="0.1">YS8</text>
<text transform="translate(412.59 222.75) rotate(90)" font-family='"Liberation Sans", Arial, sans-serif' font-size="7.45" fill="#000" stroke="#000" stroke-width="0.1">YS8</text>
<text x="509.45" y="140.36" font-family='"Liberation Sans", Arial, sans-serif' font-size="7.45" fill="#000" stroke="#000" stroke-width="0.1">YS1</text>
<text transform="translate(422.36 222.75) rotate(90)" font-family='"Liberation Sans", Arial, sans-serif' font-size="7.45" fill="#000" stroke="#000" stroke-width="0.1">YS1</text>
<text x="509.45" y="150.14" font-family='"Liberation Sans", Arial, sans-serif' font-size="7.45" fill="#000" stroke="#000" stroke-width="0.1">YS11</text>
<text transform="translate(432.14 222.75) rotate(90)" font-family='"Liberation Sans", Arial, sans-serif' font-size="7.45" fill="#000" stroke="#000" stroke-width="0.1">YS11</text>
<text x="509.45" y="159.91" font-family='"Liberation Sans", Arial, sans-serif' font-size="7.45" fill="#000" stroke="#000" stroke-width="0.1">YS10</text>
<text transform="translate(441.91 222.75) rotate(90)" font-family='"Liberation Sans", Arial, sans-serif' font-size="7.45" fill="#000" stroke="#000" stroke-width="0.1">YS10</text>
<text x="509.45" y="169.69" font-family='"Liberation Sans", Arial, sans-serif' font-size="7.45" fill="#000" stroke="#000" stroke-width="0.1">YS4</text>
<text transform="translate(451.69 222.75) rotate(90)" font-family='"Liberation Sans", Arial, sans-serif' font-size="7.45" fill="#000" stroke="#000" stroke-width="0.1">YS4</text>
<text x="509.45" y="179.46" font-family='"Liberation Sans", Arial, sans-serif' font-size="7.45" fill="#000" stroke="#000" stroke-width="0.1">YS3</text>
<text transform="translate(461.46 222.75) rotate(90)" font-family='"Liberation Sans", Arial, sans-serif' font-size="7.45" fill="#000" stroke="#000" stroke-width="0.1">YS3</text>
<text x="509.45" y="189.24" font-family='"Liberation Sans", Arial, sans-serif' font-size="7.45" fill="#000" stroke="#000" stroke-width="0.1">YS17</text>
<text transform="translate(471.24 222.75) rotate(90)" font-family='"Liberation Sans", Arial, sans-serif' font-size="7.45" fill="#000" stroke="#000" stroke-width="0.1">YS17</text>
<text x="509.45" y="199.01" font-family='"Liberation Sans", Arial, sans-serif' font-size="7.45" fill="#000" stroke="#000" stroke-width="0.1">YS18</text>
<text transform="translate(481.01 222.75) rotate(90)" font-family='"Liberation Sans", Arial, sans-serif' font-size="7.45" fill="#000" stroke="#000" stroke-width="0.1">YS18</text>
<text x="509.45" y="208.79" font-family='"Liberation Sans", Arial, sans-serif' font-size="7.45" fill="#000" stroke="#000" stroke-width="0.1">YS13</text>
<text transform="translate(490.79 222.75) rotate(90)" font-family='"Liberation Sans", Arial, sans-serif' font-size="7.45" fill="#000" stroke="#000" stroke-width="0.1">YS13</text>
<text x="509.45" y="218.56" font-family='"Liberation Sans", Arial, sans-serif' font-size="7.45" fill="#000" stroke="#000" stroke-width="0.1">YS9</text>
<text transform="translate(500.56 222.75) rotate(90)" font-family='"Liberation Sans", Arial, sans-serif' font-size="7.45" fill="#000" stroke="#000" stroke-width="0.1">YS9</text>
<defs>
<linearGradient id="lgA" x1="0" y1="0" x2="0" y2="1">
<stop offset="0" stop-color="#0a5a2d"/><stop offset="0.10" stop-color="#0f7a32"/><stop offset="0.20" stop-color="#2a9a35"/>
<stop offset="0.28" stop-color="#6cc055"/><stop offset="0.36" stop-color="#bfe3ae"/><stop offset="0.45" stop-color="#f7fbf5"/>
<stop offset="0.52" stop-color="#fdf3f8"/><stop offset="0.62" stop-color="#f7c4df"/><stop offset="0.72" stop-color="#ee82ba"/>
<stop offset="0.82" stop-color="#d71f83"/><stop offset="0.92" stop-color="#b40f64"/><stop offset="1" stop-color="#961955"/>
</linearGradient>
</defs>
<rect x="256.2" y="45.3" width="5.2" height="72.7" fill="url(#lgA)"/>
<text x="263.3" y="58.30" font-family='"Liberation Sans", Arial, sans-serif' font-size="4.8" fill="#111" stroke="#111" stroke-width="0.14">0.8</text>
<text x="263.3" y="72.40" font-family='"Liberation Sans", Arial, sans-serif' font-size="4.8" fill="#111" stroke="#111" stroke-width="0.14">0.6</text>
<text x="263.3" y="86.40" font-family='"Liberation Sans", Arial, sans-serif' font-size="4.8" fill="#111" stroke="#111" stroke-width="0.14">0.4</text>
<text x="263.3" y="100.50" font-family='"Liberation Sans", Arial, sans-serif' font-size="4.8" fill="#111" stroke="#111" stroke-width="0.14">0.2</text>
<text x="263.3" y="114.30" font-family='"Liberation Sans", Arial, sans-serif' font-size="4.8" fill="#111" stroke="#111" stroke-width="0.14">0</text>
<rect x="531.1" y="45.0" width="4.8" height="72.7" fill="url(#lgA)"/>
<text x="538.0" y="59.10" font-family='"Liberation Sans", Arial, sans-serif' font-size="4.8" fill="#111" stroke="#111" stroke-width="0.14">0.2</text>
<text x="538.0" y="74.20" font-family='"Liberation Sans", Arial, sans-serif' font-size="4.8" fill="#111" stroke="#111" stroke-width="0.14">0.15</text>
<text x="538.0" y="89.40" font-family='"Liberation Sans", Arial, sans-serif' font-size="4.8" fill="#111" stroke="#111" stroke-width="0.14">0.1</text>
<text x="538.0" y="104.70" font-family='"Liberation Sans", Arial, sans-serif' font-size="4.8" fill="#111" stroke="#111" stroke-width="0.14">0.05</text>
<text x="538.0" y="119.80" font-family='"Liberation Sans", Arial, sans-serif' font-size="4.8" fill="#111" stroke="#111" stroke-width="0.14">0</text>
<text x="4.2" y="14.8" font-family='"Liberation Serif", "Noto Serif CJK SC", serif' font-size="16" fill="#111">A</text>
<text x="300.0" y="13.8" font-family='"Liberation Serif", "Noto Serif CJK SC", serif' font-size="16" fill="#111">B</text>
<text x="5.2" y="258.6" font-family='"Liberation Serif", "Noto Serif CJK SC", serif' font-size="16" fill="#111">C</text>
<rect x="489.3" y="265.86" width="33.6" height="17.38" fill="#6b3fa0"/>
<rect x="489.3" y="282.74" width="33.6" height="17.38" fill="#6b3fa0"/>
<rect x="489.3" y="299.62" width="33.6" height="17.38" fill="#6b3fa0"/>
<rect x="489.3" y="350.26" width="33.6" height="17.38" fill="#fa4137"/>
<rect x="489.3" y="367.14" width="33.6" height="17.38" fill="#fa4137"/>
<rect x="489.3" y="384.02" width="33.6" height="17.38" fill="#d77823"/>
<rect x="489.3" y="400.90" width="33.6" height="17.38" fill="#6ebe37"/>
<rect x="489.3" y="417.78" width="33.6" height="17.38" fill="#0f5087"/>
<rect x="489.3" y="434.65" width="33.6" height="17.38" fill="#6e32a0"/>
<rect x="489.3" y="451.53" width="33.6" height="17.38" fill="#cd197d"/>
<rect x="489.3" y="468.41" width="33.6" height="17.38" fill="#1450aa"/>
<rect x="489.3" y="485.29" width="33.6" height="17.38" fill="#2daf41"/>
<rect x="489.3" y="502.17" width="33.6" height="17.38" fill="#d7d7f0"/>
<rect x="489.3" y="519.05" width="33.6" height="17.38" fill="#f0eb32"/>
<rect x="489.3" y="535.93" width="33.6" height="17.38" fill="#7d4619"/>
<rect x="489.3" y="552.81" width="33.6" height="17.38" fill="#ff2323"/>
<path d="M410.58 282.74C410.58 277.17 431.87 274.30 473.21 274.30M410.58 282.74C410.58 288.31 431.87 291.18 473.21 291.18M347.95 295.40C347.95 287.04 369.24 282.74 410.58 282.74M347.95 295.40C347.95 303.75 390.54 308.06 473.21 308.06M410.58 333.38C410.58 327.81 431.87 324.94 473.21 324.94M410.58 333.38C410.58 338.95 431.87 341.82 473.21 341.82M285.32 314.39C285.32 301.86 306.61 295.40 347.95 295.40M285.32 314.39C285.32 326.92 327.91 333.38 410.58 333.38M410.58 367.14C410.58 361.57 431.87 358.70 473.21 358.70M410.58 367.14C410.58 372.71 431.87 375.58 473.21 375.58M347.95 379.80C347.95 371.44 369.24 367.14 410.58 367.14M347.95 379.80C347.95 388.15 390.54 392.46 473.21 392.46M222.69 347.09C222.69 325.51 243.98 314.39 285.32 314.39M222.69 347.09C222.69 368.68 265.28 379.80 347.95 379.80M160.06 378.21C160.06 357.67 181.35 347.09 222.69 347.09M160.06 378.21C160.06 398.75 266.53 409.34 473.21 409.34M410.58 434.65C410.58 429.08 431.87 426.21 473.21 426.21M410.58 434.65C410.58 440.22 431.87 443.09 473.21 443.09M97.43 406.43C97.43 387.81 118.72 378.21 160.06 378.21M97.43 406.43C97.43 425.06 203.90 434.65 410.58 434.65M410.58 468.41C410.58 462.84 431.87 459.97 473.21 459.97M410.58 468.41C410.58 473.98 431.87 476.85 473.21 476.85M347.95 481.07C347.95 472.72 369.24 468.41 410.58 468.41M347.95 481.07C347.95 489.43 390.54 493.73 473.21 493.73M285.32 495.84C285.32 486.09 306.61 481.07 347.95 481.07M285.32 495.84C285.32 505.59 349.20 510.61 473.21 510.61M410.58 535.93C410.58 530.36 431.87 527.49 473.21 527.49M410.58 535.93C410.58 541.50 431.87 544.37 473.21 544.37M222.69 515.89C222.69 502.66 243.98 495.84 285.32 495.84M222.69 515.89C222.69 529.12 286.57 535.93 410.58 535.93M34.80 483.84C34.80 432.75 56.09 406.43 97.43 406.43M34.80 483.84C34.80 504.99 98.68 515.89 222.69 515.89M34.80 483.84C34.80 534.93 183.86 561.25 473.21 561.25" fill="none" stroke="#000" stroke-width="1.7" stroke-linecap="round"/>
<path d="M473.21 274.30H492.6M473.21 291.18H492.6M473.21 308.06H492.6M473.21 324.94H492.6M473.21 341.82H492.6M473.21 358.70H492.6M473.21 375.58H492.6M473.21 392.46H492.6M473.21 409.34H492.6M473.21 426.21H492.6M473.21 443.09H492.6M473.21 459.97H492.6M473.21 476.85H492.6M473.21 493.73H492.6M473.21 510.61H492.6M473.21 527.49H492.6M473.21 544.37H492.6M473.21 561.25H492.6" fill="none" stroke="#111" stroke-width="1.3"/>
<text transform="scale(0.78 1)" x="635.67 643.94 652.21 660.48" y="278.70" text-anchor="middle" font-family='"Liberation Serif", "Noto Serif CJK SC", serif' font-size="14.6" fill="#111" stroke="#111" stroke-width="0.15">YS12</text>
<text transform="scale(0.78 1)" x="635.67 643.94 652.21 660.48" y="295.58" text-anchor="middle" font-family='"Liberation Serif", "Noto Serif CJK SC", serif' font-size="14.6" fill="#111" stroke="#111" stroke-width="0.15">YS15</text>
<text transform="scale(0.78 1)" x="635.67 643.94 652.21 660.48" y="312.46" text-anchor="middle" font-family='"Liberation Serif", "Noto Serif CJK SC", serif' font-size="14.6" fill="#111" stroke="#111" stroke-width="0.15">YS16</text>
<text transform="scale(0.78 1)" x="635.67 643.94 652.21" y="329.34" text-anchor="middle" font-family='"Liberation Serif", "Noto Serif CJK SC", serif' font-size="14.6" fill="#111" stroke="#111" stroke-width="0.15">YS2</text>
<text transform="scale(0.78 1)" x="635.67 643.94 652.21" y="346.22" text-anchor="middle" font-family='"Liberation Serif", "Noto Serif CJK SC", serif' font-size="14.6" fill="#111" stroke="#111" stroke-width="0.15">YS5</text>
<text transform="scale(0.78 1)" x="635.67 643.94 652.21" y="363.10" text-anchor="middle" font-family='"Liberation Serif", "Noto Serif CJK SC", serif' font-size="14.6" fill="#111" stroke="#111" stroke-width="0.15">YS1</text>
<text transform="scale(0.78 1)" x="635.67 643.94 652.21 660.48" y="379.98" text-anchor="middle" font-family='"Liberation Serif", "Noto Serif CJK SC", serif' font-size="14.6" fill="#111" stroke="#111" stroke-width="0.15">YS11</text>
<text transform="scale(0.78 1)" x="635.67 643.94 652.21" y="396.86" text-anchor="middle" font-family='"Liberation Serif", "Noto Serif CJK SC", serif' font-size="14.6" fill="#111" stroke="#111" stroke-width="0.15">YS8</text>
<text transform="scale(0.78 1)" x="635.67 643.94 652.21 660.48" y="413.74" text-anchor="middle" font-family='"Liberation Serif", "Noto Serif CJK SC", serif' font-size="14.6" fill="#111" stroke="#111" stroke-width="0.15">YS13</text>
<text transform="scale(0.78 1)" x="635.67 643.94 652.21 660.48" y="430.61" text-anchor="middle" font-family='"Liberation Serif", "Noto Serif CJK SC", serif' font-size="14.6" fill="#111" stroke="#111" stroke-width="0.15">YS10</text>
<text transform="scale(0.78 1)" x="635.67 643.94 652.21" y="447.49" text-anchor="middle" font-family='"Liberation Serif", "Noto Serif CJK SC", serif' font-size="14.6" fill="#111" stroke="#111" stroke-width="0.15">YS4</text>
<text transform="scale(0.78 1)" x="635.67 643.94 652.21" y="464.37" text-anchor="middle" font-family='"Liberation Serif", "Noto Serif CJK SC", serif' font-size="14.6" fill="#111" stroke="#111" stroke-width="0.15">YS6</text>
<text transform="scale(0.78 1)" x="635.67 643.94 652.21" y="481.25" text-anchor="middle" font-family='"Liberation Serif", "Noto Serif CJK SC", serif' font-size="14.6" fill="#111" stroke="#111" stroke-width="0.15">YS7</text>
<text transform="scale(0.78 1)" x="635.67 643.94 652.21 660.48" y="498.13" text-anchor="middle" font-family='"Liberation Serif", "Noto Serif CJK SC", serif' font-size="14.6" fill="#111" stroke="#111" stroke-width="0.15">YS14</text>
<text transform="scale(0.78 1)" x="635.67 643.94 652.21" y="515.01" text-anchor="middle" font-family='"Liberation Serif", "Noto Serif CJK SC", serif' font-size="14.6" fill="#111" stroke="#111" stroke-width="0.15">YS9</text>
<text transform="scale(0.78 1)" x="635.67 643.94 652.21 660.48" y="531.89" text-anchor="middle" font-family='"Liberation Serif", "Noto Serif CJK SC", serif' font-size="14.6" fill="#111" stroke="#111" stroke-width="0.15">YS17</text>
<text transform="scale(0.78 1)" x="635.67 643.94 652.21 660.48" y="548.77" text-anchor="middle" font-family='"Liberation Serif", "Noto Serif CJK SC", serif' font-size="14.6" fill="#111" stroke="#111" stroke-width="0.15">YS18</text>
<text transform="scale(0.78 1)" x="635.67 643.94 652.21" y="565.65" text-anchor="middle" font-family='"Liberation Serif", "Noto Serif CJK SC", serif' font-size="14.6" fill="#111" stroke="#111" stroke-width="0.15">YS3</text>
</svg></body></html>
